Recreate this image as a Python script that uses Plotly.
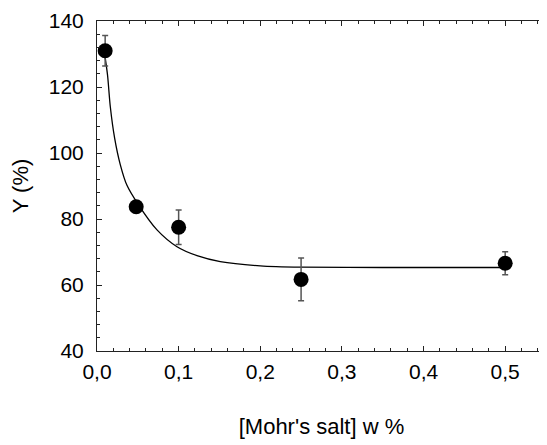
import plotly.graph_objects as go

# measured points
conc = [0.01, 0.048, 0.1, 0.25, 0.5]
yield_pct = [131.0, 83.7, 77.5, 61.7, 66.6]
err = [4.6, 1.0, 5.2, 6.5, 3.5]

# fitted curve
fit_x = [0.009, 0.0102, 0.013, 0.0163, 0.0216, 0.0285, 0.0367, 0.05, 0.0735, 0.098, 0.1225, 0.151, 0.2, 0.25, 0.35, 0.5]
fit_y = [131.0, 128.6, 123.4, 114.0, 104.5, 96.5, 90.2, 84.6, 76.7, 71.6, 68.9, 67.1, 65.8, 65.4, 65.3, 65.3]

x_ticks = [0.0, 0.1, 0.2, 0.3, 0.4, 0.5]
y_ticks = [40, 60, 80, 100, 120, 140]

FONT = "Liberation Sans, Arial, sans-serif"

fig = go.Figure()
fig.add_trace(go.Scatter(
    x=fit_x, y=fit_y, mode="lines",
    line=dict(color="black", width=1.3, shape="spline", smoothing=0.8),
    showlegend=False, hoverinfo="skip"))
fig.add_trace(go.Scatter(
    x=conc, y=yield_pct, mode="markers",
    marker=dict(color="black", size=15),
    error_y=dict(type="data", array=err, visible=True, color="#555555", thickness=1.5, width=3),
    showlegend=False))

axis_common = dict(
    showline=True, linecolor="#222222", linewidth=1, mirror="ticks",
    ticks="inside", ticklen=5, tickwidth=1, tickcolor="#222222",
    showgrid=False, zeroline=False, automargin=False,
    tickfont=dict(family=FONT, size=21, color="black"),
)
fig.update_xaxes(
    range=[0, 0.55], tickvals=x_ticks, tickformat=".1f", ticklabelstandoff=2,
    minor=dict(ticks="inside", dtick=0.02, tick0=0, ticklen=3, tickcolor="#222222"),
    title=dict(text="[Mohr's salt] w %", font=dict(family=FONT, size=22, color="black"), standoff=36),
    **axis_common)
fig.update_yaxes(
    range=[40, 140], tickvals=y_ticks, ticklabelstandoff=8,
    minor=dict(ticks="inside", dtick=4, tick0=40, ticklen=3, tickcolor="#222222"),
    title=dict(text="Y (%)", font=dict(family=FONT, size=22, color="black"), standoff=26),
    **axis_common)

# the page body adds an 8px margin, so the figure is 8px smaller here
fig.update_layout(
    width=539, height=437,
    margin=dict(l=89, r=1, t=13, b=94),
    plot_bgcolor="white", paper_bgcolor="white",
    separators=", ",
)
fig.write_html("out.html")
